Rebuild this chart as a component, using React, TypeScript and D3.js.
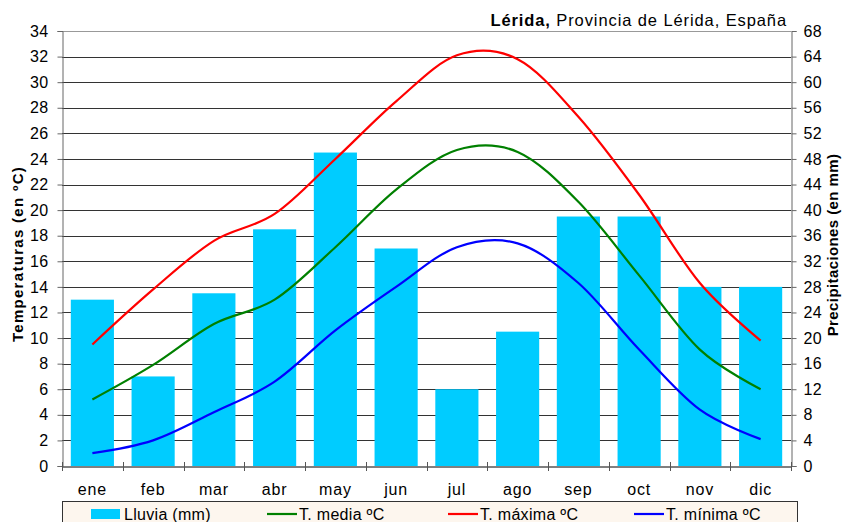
import React, { useEffect, useRef } from "react";
import * as d3 from "d3";

// monthly climate for Lérida
const months = ["ene", "feb", "mar", "abr", "may", "jun", "jul", "ago", "sep", "oct", "nov", "dic"];
const lluvia = [26, 14, 27, 37, 49, 34, 12, 21, 39, 39, 28, 28];
const tMedia = [5.2, 7.9, 11.1, 13.0, 17.1, 21.6, 24.7, 24.55, 20.65, 14.9, 9.1, 6.0];
const tMaxima = [9.5, 13.8, 17.6, 19.7, 24.0, 28.5, 32.1, 31.8, 27.3, 21.2, 14.3, 9.8];
const tMinima = [1.0, 2.0, 4.2, 6.6, 10.6, 14.0, 17.1, 17.4, 14.3, 9.1, 4.4, 2.1];
const tempTicks = d3.range(0, 35, 2);
const rainTicks = d3.range(0, 69, 4);

const lineSeries = [
  { name: "T. media ºC", values: tMedia, color: "#008000" },
  { name: "T. máxima ºC", values: tMaxima, color: "#ff0000" },
  { name: "T. mínima ºC", values: tMinima, color: "#0000ff" },
];

function drawChart(svgEl) {
  const width = 843;
  const height = 522;
  const marginLeft = 62;
  const marginRight = 52;
  const marginTop = 31;
  const marginBottom = 56;
  const font = "'Liberation Sans', Arial, sans-serif";

  const svg = d3.select(svgEl);
  svg.selectAll("*").remove();
  svg.attr("width", width).attr("height", height).attr("viewBox", [0, 0, width, height]);

  const x = d3.scaleBand(months, [marginLeft, width - marginRight]).paddingInner(0.29).paddingOuter(0.145);
  const xPos = d3.scaleBand(months, [marginLeft, width - marginRight]);
  const yTemp = d3.scaleLinear([0, 34], [height - marginBottom, marginTop]);
  const yRain = d3.scaleLinear([0, 68], [height - marginBottom, marginTop]);

  svg.append("rect").attr("width", width).attr("height", height).attr("fill", "white");

  // gridlines
  svg
    .append("g")
    .selectAll("line")
    .data(tempTicks.filter((d) => d > 0))
    .join("line")
    .attr("x1", marginLeft)
    .attr("x2", width - marginRight)
    .attr("y1", (d) => Math.round(yTemp(d)) + 0.5)
    .attr("y2", (d) => Math.round(yTemp(d)) + 0.5)
    .attr("stroke", (d) => (d === 34 ? "#999" : "#333"))
    .attr("stroke-width", 1);

  // bars
  svg
    .append("g")
    .selectAll("rect")
    .data(lluvia)
    .join("rect")
    .attr("x", (d, i) => x(months[i]))
    .attr("width", x.bandwidth())
    .attr("y", (d) => yRain(d))
    .attr("height", (d) => yRain(0) - yRain(d))
    .attr("fill", "#00ccff");

  // smoothed lines
  const line = d3
    .line()
    .x((d, i) => xPos(months[i]) + xPos.bandwidth() / 2)
    .y((d) => yTemp(d))
    .curve(d3.curveCardinal.tension(0));

  svg
    .append("g")
    .selectAll("path")
    .data(lineSeries)
    .join("path")
    .attr("d", (s) => line(s.values))
    .attr("fill", "none")
    .attr("stroke", (s) => s.color)
    .attr("stroke-width", 2.2);

  const styleText = (g) =>
    g
      .selectAll(".tick text")
      .attr("font-family", font)
      .attr("font-size", 16)
      .attr("letter-spacing", 0.4)
      .attr("fill", "#000");

  // left axis
  const yAxisL = d3.axisLeft(yTemp).tickValues(tempTicks).tickSizeOuter(0).tickSize(5).tickPadding(9);
  svg
    .append("g")
    .attr("transform", `translate(${marginLeft + 0.5},0)`)
    .call(yAxisL)
    .call((g) => g.select(".domain").attr("stroke", "#666"))
    .call((g) => g.selectAll(".tick line").attr("stroke", "#666"))
    .call(styleText);

  // right axis
  const yAxisR = d3.axisRight(yRain).tickValues(rainTicks).tickSizeOuter(0).tickSize(5).tickPadding(7);
  svg
    .append("g")
    .attr("transform", `translate(${width - marginRight + 0.5},0)`)
    .call(yAxisR)
    .call((g) => g.select(".domain").attr("stroke", "#666"))
    .call((g) => g.selectAll(".tick line").attr("stroke", "#666"))
    .call(styleText);

  // bottom axis
  const xAxis = d3.axisBottom(xPos).tickSize(0).tickPadding(17);
  svg
    .append("g")
    .attr("transform", `translate(0,${height - marginBottom + 0.5})`)
    .call(xAxis)
    .call((g) => g.select(".domain").attr("stroke", "#000"))
    .call(styleText)
    .call((g) => g.selectAll(".tick text").attr("letter-spacing", 0.8));

  svg
    .append("g")
    .selectAll("line")
    .data(d3.range(months.length + 1))
    .join("line")
    .attr("x1", (i) => Math.round(marginLeft + i * xPos.step()) + 0.5)
    .attr("x2", (i) => Math.round(marginLeft + i * xPos.step()) + 0.5)
    .attr("y1", height - marginBottom - 4)
    .attr("y2", height - marginBottom + 5)
    .attr("stroke", "#555");

  // axis titles
  svg
    .append("text")
    .attr("transform", `translate(23,254) rotate(-90)`)
    .attr("text-anchor", "middle")
    .attr("font-family", font)
    .attr("font-size", 15)
    .attr("font-weight", "bold")
    .attr("letter-spacing", 1.3)
    .text("Temperaturas (en ºC)");

  svg
    .append("text")
    .attr("transform", `translate(838,245) rotate(-90)`)
    .attr("text-anchor", "middle")
    .attr("font-family", font)
    .attr("font-size", 15)
    .attr("font-weight", "bold")
    .attr("letter-spacing", 0.4)
    .text("Precipitaciones (en mm)");

  // title
  const title = svg
    .append("text")
    .attr("x", 787)
    .attr("y", 26)
    .attr("text-anchor", "end")
    .attr("font-family", font)
    .attr("font-size", 16.5)
    .attr("letter-spacing", 0.9);
  title.append("tspan").attr("font-weight", "bold").text("Lérida,");
  title.append("tspan").text(" Provincia de Lérida, España");

  // legend
  const legend = svg.append("g");
  legend
    .append("rect")
    .attr("x", 62.5)
    .attr("y", 501.5)
    .attr("width", 735)
    .attr("height", 30)
    .attr("fill", "#fdf6ee")
    .attr("stroke", "#333");

  const legY = 514;
  legend
    .append("rect")
    .attr("x", 91)
    .attr("y", legY - 5)
    .attr("width", 29)
    .attr("height", 10)
    .attr("fill", "#00ccff");

  const legendText = (sel, x0, label) =>
    sel
      .append("text")
      .attr("x", x0)
      .attr("y", legY + 6)
      .attr("font-family", font)
      .attr("font-size", 16)
      .attr("letter-spacing", 0.3)
      .text(label);

  legendText(legend, 124, "Lluvia (mm)");

  const legX = [267, 448, 634];
  lineSeries.forEach((s, i) => {
    legend
      .append("line")
      .attr("x1", legX[i])
      .attr("x2", legX[i] + 30)
      .attr("y1", legY)
      .attr("y2", legY)
      .attr("stroke", s.color)
      .attr("stroke-width", 2.2);
    legendText(legend, legX[i] + 32, s.name);
  });
}

export default function App() {
  const svgRef = useRef(null);
  useEffect(() => {
    drawChart(svgRef.current);
  }, []);
  return <svg ref={svgRef} style={{ position: "absolute", left: 0, top: 0, display: "block" }} />;
}
